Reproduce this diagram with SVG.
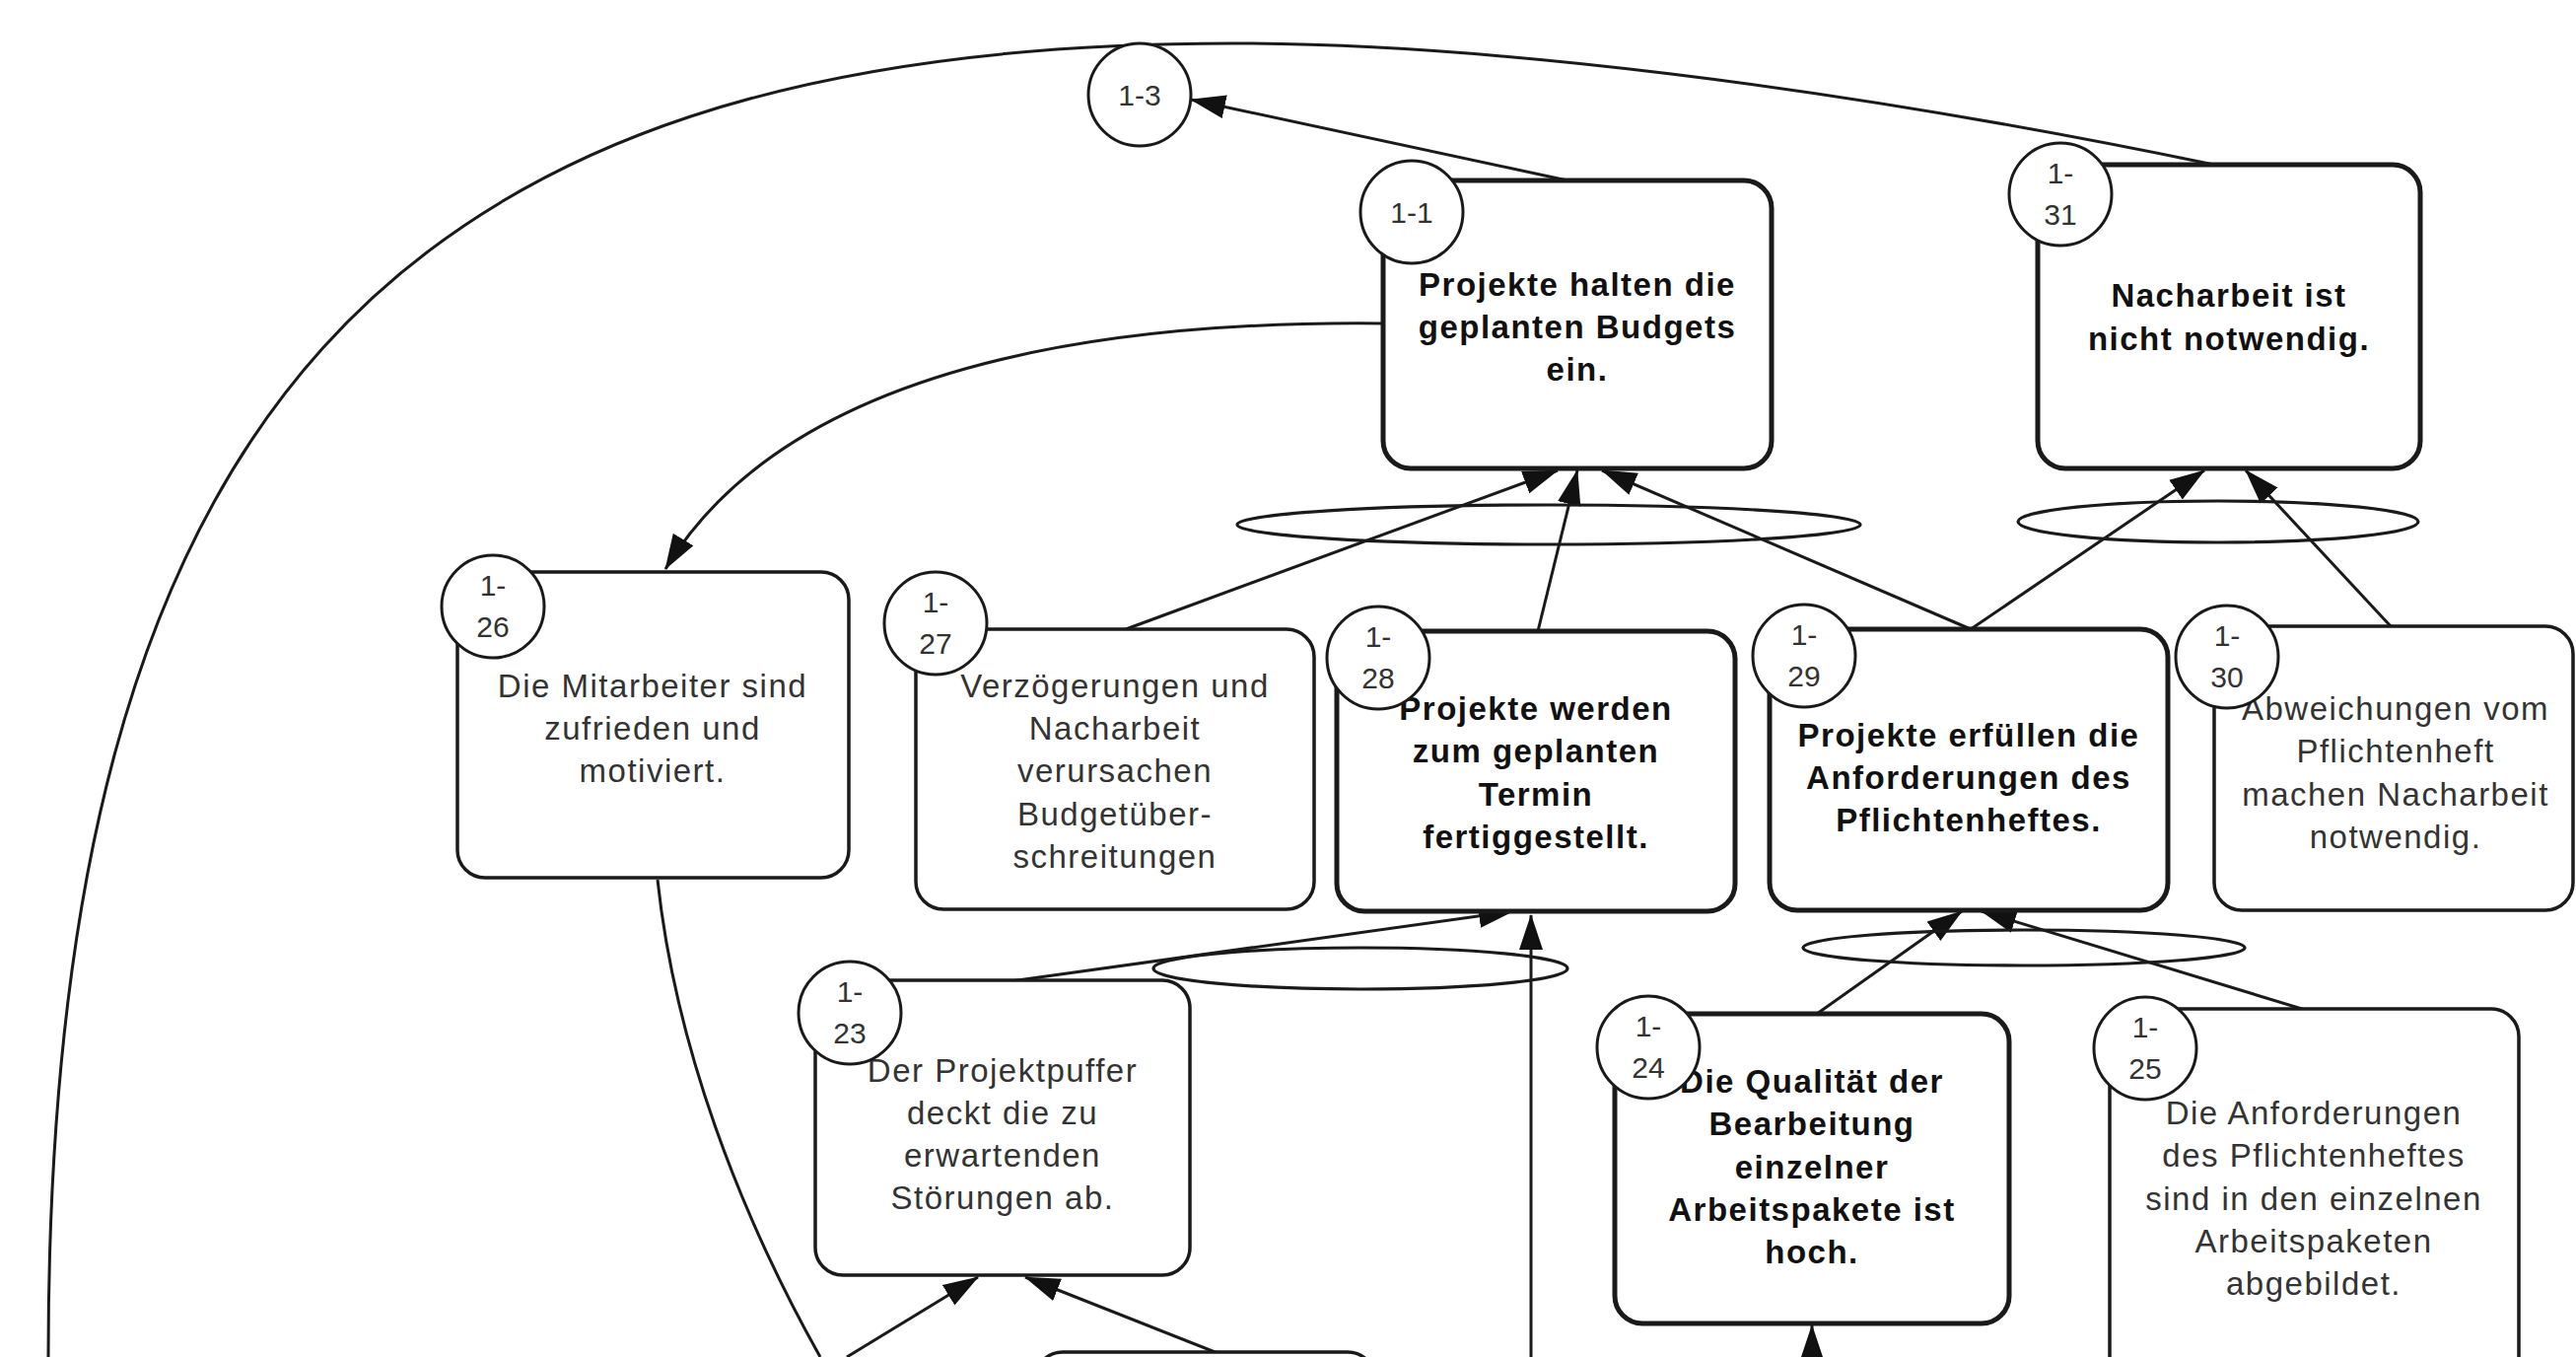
<svg xmlns="http://www.w3.org/2000/svg" width="2613" height="1376" viewBox="0 0 2613 1376">
  <style>
    .box { fill: #fff; stroke: #1a1a1a; stroke-width: 3.5; }
    .box.b { stroke-width: 5; }
    .tag { fill: #fff; stroke: #1a1a1a; stroke-width: 3; }
    .t { font-family: "Liberation Sans", Arial, sans-serif; font-size: 33px; letter-spacing: 1.5px; text-anchor: middle; fill: #333; }
    .t.b { font-weight: bold; fill: #111; }
    .lbl { font-family: "Liberation Sans", Arial, sans-serif; font-size: 30px; text-anchor: middle; fill: #333; }
    .c { fill: none; stroke: #1a1a1a; stroke-width: 3; }
    .and { fill: none; stroke: #1a1a1a; stroke-width: 3.2; }
  </style>
  <defs>
    <marker id="arr" markerUnits="userSpaceOnUse" markerWidth="36" markerHeight="26" refX="35" refY="13" orient="auto">
      <path d="M0,1 L36,13 L0,25 z" fill="#111"/>
    </marker>
  </defs>
  <rect width="2613" height="1376" fill="#fff"/>

  <!-- connectors -->
  <g id="connectors">
    <path class="c" d="M2246,167 C1850,85 1500,44 1250,44 C391,44 49,424 49,1376"/>
    <path class="c" d="M1590,183 L1208,101" marker-end="url(#arr)"/>
    <path class="c" d="M1403,328 C1120,325 800,370 675,577" marker-end="url(#arr)"/>
    <path class="c" d="M1142,638 L1580,477" marker-end="url(#arr)"/>
    <path class="c" d="M1560,640 L1600,477" marker-end="url(#arr)"/>
    <path class="c" d="M1999,638 L1625,477" marker-end="url(#arr)"/>
    <path class="c" d="M1999,638 L2236,477" marker-end="url(#arr)"/>
    <path class="c" d="M2425,635 L2278,477" marker-end="url(#arr)"/>
    <path class="c" d="M1025,995 L1535,924" marker-end="url(#arr)"/>
    <path class="c" d="M1553,1376 L1553,928" marker-end="url(#arr)"/>
    <path class="c" d="M1843,1028 L1990,924" marker-end="url(#arr)"/>
    <path class="c" d="M2335,1023 L2010,924" marker-end="url(#arr)"/>
    <path class="c" d="M1838,1390 L1838,1344" marker-end="url(#arr)"/>
    <path class="c" d="M859,1376 L992,1295" marker-end="url(#arr)"/>
    <path class="c" d="M1245,1376 L1040,1295" marker-end="url(#arr)"/>
    <path class="c" d="M667,892 C685,1060 750,1230 832,1376"/>
    <!-- AND junctions -->
    <ellipse class="and" cx="1571" cy="532" rx="316" ry="20"/>
    <ellipse class="and" cx="2250" cy="529" rx="203" ry="21"/>
    <ellipse class="and" cx="1380" cy="982" rx="210" ry="21"/>
    <ellipse class="and" cx="2053" cy="961" rx="224" ry="18"/>
  </g>

  <!-- nodes -->
  <g id="n1-3">
    <circle class="tag" cx="1156" cy="96" r="52"/>
    <text class="lbl" x="1156" y="107">1-3</text>
  </g>

  <g id="n1-1">
    <rect class="box b" x="1403" y="183" width="394" height="292" rx="28"/>
    <text class="t b" x="1600" y="300">Projekte halten die</text>
    <text class="t b" x="1600" y="343">geplanten Budgets</text>
    <text class="t b" x="1600" y="386">ein.</text>
    <circle class="tag" cx="1432" cy="215" r="52"/>
    <text class="lbl" x="1432" y="226">1-1</text>
  </g>

  <g id="n1-31">
    <rect class="box b" x="2067" y="167" width="388" height="308" rx="28"/>
    <text class="t b" x="2261" y="311">Nacharbeit ist</text>
    <text class="t b" x="2261" y="355">nicht notwendig.</text>
    <circle class="tag" cx="2090" cy="197" r="52"/>
    <text class="lbl" x="2090" y="186">1-</text>
    <text class="lbl" x="2090" y="228">31</text>
  </g>

  <g id="n1-26">
    <rect class="box" x="464" y="580" width="397" height="310" rx="28"/>
    <text class="t" x="662" y="707">Die Mitarbeiter sind</text>
    <text class="t" x="662" y="750">zufrieden und</text>
    <text class="t" x="662" y="793">motiviert.</text>
    <circle class="tag" cx="500" cy="615" r="52"/>
    <text class="lbl" x="500" y="604">1-</text>
    <text class="lbl" x="500" y="646">26</text>
  </g>

  <g id="n1-27">
    <rect class="box" x="929" y="638" width="404" height="284" rx="28"/>
    <text class="t" x="1131" y="707">Verzögerungen und</text>
    <text class="t" x="1131" y="750">Nacharbeit</text>
    <text class="t" x="1131" y="793">verursachen</text>
    <text class="t" x="1131" y="837">Budgetüber-</text>
    <text class="t" x="1131" y="880">schreitungen</text>
    <circle class="tag" cx="949" cy="632" r="52"/>
    <text class="lbl" x="949" y="621">1-</text>
    <text class="lbl" x="949" y="663">27</text>
  </g>

  <g id="n1-28">
    <rect class="box b" x="1356" y="640" width="404" height="284" rx="28"/>
    <text class="t b" x="1558" y="730">Projekte werden</text>
    <text class="t b" x="1558" y="773">zum geplanten</text>
    <text class="t b" x="1558" y="817">Termin</text>
    <text class="t b" x="1558" y="860">fertiggestellt.</text>
    <circle class="tag" cx="1398" cy="667" r="52"/>
    <text class="lbl" x="1398" y="656">1-</text>
    <text class="lbl" x="1398" y="698">28</text>
  </g>

  <g id="n1-29">
    <rect class="box b" x="1795" y="638" width="404" height="285" rx="28"/>
    <text class="t b" x="1997" y="757">Projekte erfüllen die</text>
    <text class="t b" x="1997" y="800">Anforderungen des</text>
    <text class="t b" x="1997" y="843">Pflichtenheftes.</text>
    <circle class="tag" cx="1830" cy="665" r="52"/>
    <text class="lbl" x="1830" y="654">1-</text>
    <text class="lbl" x="1830" y="696">29</text>
  </g>

  <g id="n1-30">
    <rect class="box" x="2246" y="635" width="364" height="288" rx="28"/>
    <text class="t" x="2430" y="730">Abweichungen vom</text>
    <text class="t" x="2430" y="773">Pflichtenheft</text>
    <text class="t" x="2430" y="817">machen Nacharbeit</text>
    <text class="t" x="2430" y="860">notwendig.</text>
    <circle class="tag" cx="2259" cy="666" r="52"/>
    <text class="lbl" x="2259" y="655">1-</text>
    <text class="lbl" x="2259" y="697">30</text>
  </g>

  <g id="n1-23">
    <rect class="box" x="827" y="994" width="380" height="299" rx="28"/>
    <text class="t" x="1017" y="1097">Der Projektpuffer</text>
    <text class="t" x="1017" y="1140">deckt die zu</text>
    <text class="t" x="1017" y="1183">erwartenden</text>
    <text class="t" x="1017" y="1226">Störungen ab.</text>
    <circle class="tag" cx="862" cy="1027" r="52"/>
    <text class="lbl" x="862" y="1016">1-</text>
    <text class="lbl" x="862" y="1058">23</text>
  </g>

  <g id="n1-24">
    <rect class="box b" x="1638" y="1028" width="400" height="314" rx="28"/>
    <text class="t b" x="1838" y="1108">Die Qualität der</text>
    <text class="t b" x="1838" y="1151">Bearbeitung</text>
    <text class="t b" x="1838" y="1195">einzelner</text>
    <text class="t b" x="1838" y="1238">Arbeitspakete ist</text>
    <text class="t b" x="1838" y="1281">hoch.</text>
    <circle class="tag" cx="1672" cy="1062" r="52"/>
    <text class="lbl" x="1672" y="1051">1-</text>
    <text class="lbl" x="1672" y="1093">24</text>
  </g>

  <g id="n1-25">
    <rect class="box" x="2140" y="1023" width="415" height="420" rx="28"/>
    <text class="t" x="2347" y="1140">Die Anforderungen</text>
    <text class="t" x="2347" y="1183">des Pflichtenheftes</text>
    <text class="t" x="2347" y="1227">sind in den einzelnen</text>
    <text class="t" x="2347" y="1270">Arbeitspaketen</text>
    <text class="t" x="2347" y="1313">abgebildet.</text>
    <circle class="tag" cx="2176" cy="1063" r="52"/>
    <text class="lbl" x="2176" y="1052">1-</text>
    <text class="lbl" x="2176" y="1094">25</text>
  </g>

  <g id="n-bottom">
    <rect class="box" x="1050" y="1371" width="345" height="200" rx="28"/>
  </g>
</svg>
